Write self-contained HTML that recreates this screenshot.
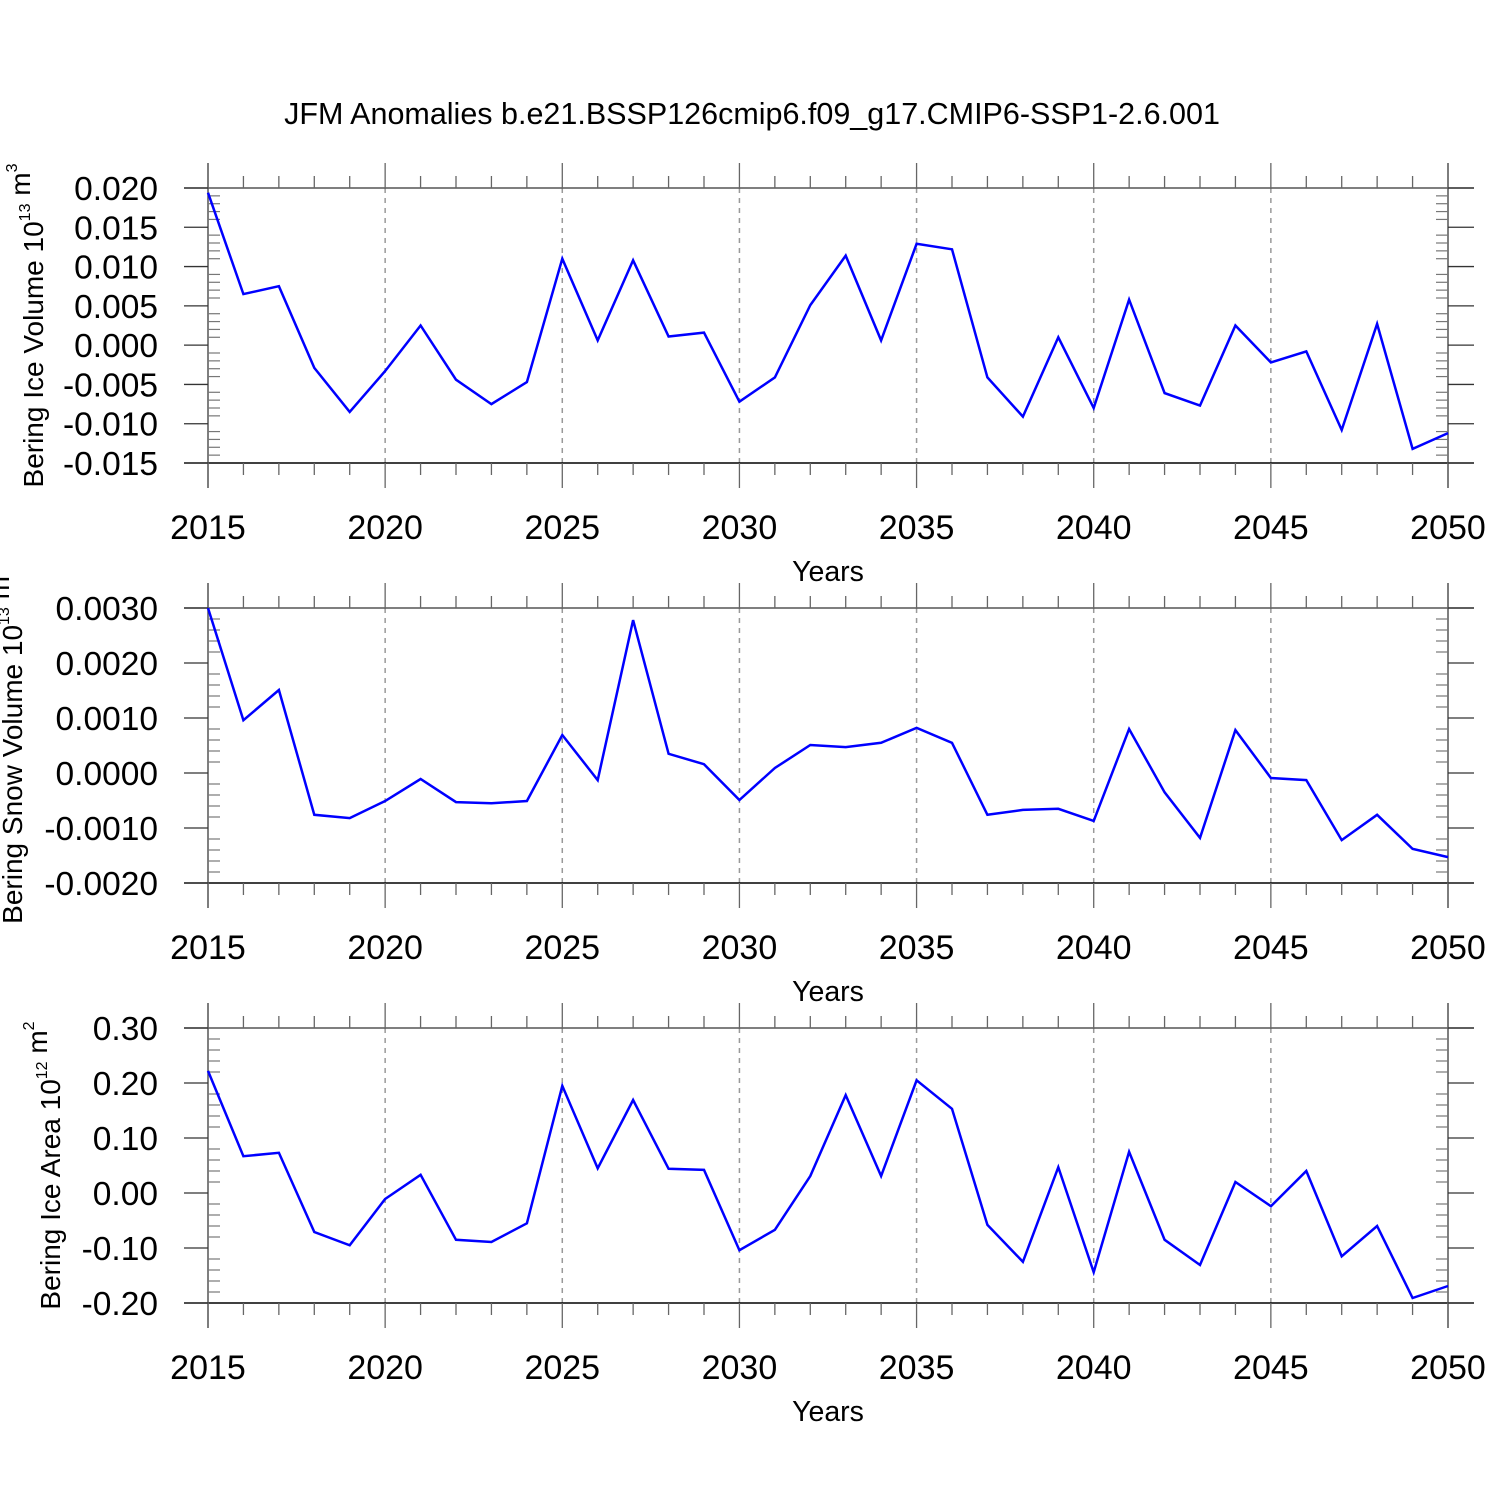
<!DOCTYPE html>
<html><head><meta charset="utf-8"><style>
html,body{margin:0;padding:0;background:#fff;width:1500px;height:1500px;overflow:hidden}
svg{display:block;font-family:"Liberation Sans",sans-serif}
</style></head><body>
<svg id="chart" width="1500" height="1500" viewBox="0 0 1500 1500">
<text x="752" y="124" font-size="30.5" text-anchor="middle">JFM Anomalies b.e21.BSSP126cmip6.f09_g17.CMIP6-SSP1-2.6.001</text>
</svg>
<script>
const years = [];
for (let y = 2015; y <= 2050; y++) years.push(y);
const iceVolume = [0.0194,0.0065,0.0075,-0.0029,-0.0085,-0.0033,0.0025,-0.0044,-0.0075,-0.0047,0.0110,0.0006,0.0108,0.0011,0.0016,-0.0072,-0.0041,0.0051,0.0114,0.0006,0.0129,0.0122,-0.0041,-0.0091,0.0010,-0.0080,0.0058,-0.0061,-0.0077,0.0025,-0.0022,-0.0008,-0.0108,0.0027,-0.0132,-0.0112];
const snowVolume = [0.0030,0.00096,0.00151,-0.00076,-0.00082,-0.00051,-0.00011,-0.00053,-0.00055,-0.00051,0.00069,-0.00013,0.00278,0.00035,0.00016,-0.00049,0.00009,0.00051,0.00047,0.00055,0.00082,0.00055,-0.00076,-0.00067,-0.00065,-0.00087,0.0008,-0.00035,-0.00118,0.00078,-0.00009,-0.00013,-0.00122,-0.00076,-0.00138,-0.00153];
const iceArea = [0.222,0.067,0.073,-0.071,-0.095,-0.011,0.033,-0.085,-0.089,-0.055,0.195,0.045,0.169,0.044,0.042,-0.104,-0.067,0.031,0.178,0.031,0.205,0.153,-0.058,-0.125,0.047,-0.144,0.075,-0.085,-0.131,0.020,-0.024,0.040,-0.115,-0.060,-0.191,-0.169];
const xTickLabels = ["2015","2020","2025","2030","2035","2040","2045","2050"];
const iceVolTicks = ["0.020","0.015","0.010","0.005","0.000","-0.005","-0.010","-0.015"];
const snowTicks = ["0.0030","0.0020","0.0010","0.0000","-0.0010","-0.0020"];
const areaTicks = ["0.30","0.20","0.10","0.00","-0.10","-0.20"];

const svg = document.getElementById('chart');
const NS = 'http://www.w3.org/2000/svg';
function mk(tag, attrs, parent) {
  const e = document.createElementNS(NS, tag);
  for (const k in attrs) e.setAttribute(k, attrs[k]);
  (parent || svg).appendChild(e);
  return e;
}
const X0 = 208, X1 = 1448;
function xs(yr) { return X0 + (yr - 2015) / 35 * (X1 - X0); }

function panel(name, top, bot, ymax, ymin, major, nminor, ticks, data, titleX, titleParts) {
  const g = mk('g', {});
  
  
  const ys = v => top + (ymax - v) / (ymax - ymin) * (bot - top);
  for (let yr = 2020; yr <= 2045; yr += 5) {
    const l = mk('line', {x1: xs(yr), x2: xs(yr), y1: top, y2: bot, stroke: '#999', 'stroke-width': 1.5, 'stroke-dasharray': '5,5'}, g);
    
    
  }
  mk('line', {x1: 184, x2: 1474, y1: top, y2: top, stroke: '#555', 'stroke-width': 1.5}, g);
  mk('line', {x1: 184, x2: 1474, y1: bot, y2: bot, stroke: '#000', 'stroke-width': 1.5}, g);
  mk('line', {x1: X0, x2: X0, y1: top - 25, y2: bot + 25, stroke: '#555', 'stroke-width': 1.5}, g);
  mk('line', {x1: X1, x2: X1, y1: top - 25, y2: bot + 25, stroke: '#555', 'stroke-width': 1.5}, g);
  years.forEach(yr => {
    const maj = (yr % 5 === 0);
    const len = maj ? 25 : 12;
    mk('line', {x1: xs(yr), x2: xs(yr), y1: top - len, y2: top, stroke: '#666', 'stroke-width': 1.3}, g);
    mk('line', {x1: xs(yr), x2: xs(yr), y1: bot, y2: bot + len, stroke: '#666', 'stroke-width': 1.3}, g);
  });
  xTickLabels.forEach(lab => {
    const t = mk('text', {x: xs(+lab), y: bot + 76, 'font-size': 34, 'text-anchor': 'middle'}, g);
    t.textContent = lab;
    
    
  });
  const xt = mk('text', {x: 828, y: bot + 118, 'font-size': 28.5, 'text-anchor': 'middle'}, g);
  xt.textContent = 'Years';
  
  
  const nMaj = ticks.length;
  for (let i = 0; i < nMaj; i++) {
    const v = ymax - i * major;
    const y = ys(v);
    mk('line', {x1: 184, x2: X0, y1: y, y2: y, stroke: '#333', 'stroke-width': 1.3}, g);
    mk('line', {x1: X1, x2: 1474, y1: y, y2: y, stroke: '#333', 'stroke-width': 1.3}, g);
    const t = mk('text', {x: 158, y: y + 12, 'font-size': 33.5, 'text-anchor': 'end'}, g);
    t.textContent = ticks[i];
    
    
    if (i < nMaj - 1) {
      for (let j = 1; j < nminor; j++) {
        const ym = ys(v - j * major / nminor);
        mk('line', {x1: X0, x2: X0 + 12, y1: ym, y2: ym, stroke: '#777', 'stroke-width': 1.2}, g);
        mk('line', {x1: X1 - 12, x2: X1, y1: ym, y2: ym, stroke: '#777', 'stroke-width': 1.2}, g);
      }
    }
  }
  const pts = data.map((v, i) => xs(years[i]).toFixed(1) + ',' + ys(v).toFixed(1)).join(' ');
  const pl = mk('polyline', {points: pts, fill: 'none', stroke: '#0000ff', 'stroke-width': 2.5, 'stroke-linejoin': 'miter'}, g);
  
  
  const cy = (top + bot) / 2;
  const yt = mk('text', {x: titleX, y: cy, 'font-size': 28, 'text-anchor': 'middle', transform: 'rotate(-90 ' + titleX + ' ' + cy + ')'}, g);
  
  
  titleParts.forEach(p => {
    const ts = mk('tspan', p[1] ? {'font-size': 16, dy: -13} : {'font-size': 28, dy: 0}, yt);
    ts.textContent = p[0];
    if (p[1]) { const back = mk('tspan', {'font-size': 28, dy: 13}, yt); back.textContent = ''; }
  });
}
panel('ice-volume', 188, 463, 0.020, -0.015, 0.005, 5, iceVolTicks, iceVolume, 43,
  [['Bering Ice Volume 10', 0], ['13', 1], [' m', 0], ['3', 1]]);
panel('snow-volume', 608, 883, 0.0030, -0.0020, 0.0010, 5, snowTicks, snowVolume, 22,
  [['Bering Snow Volume 10', 0], ['13', 1], [' m', 0], ['3', 1]]);
panel('ice-area', 1028, 1303, 0.30, -0.20, 0.10, 5, areaTicks, iceArea, 60,
  [['Bering Ice Area 10', 0], ['12', 1], [' m', 0], ['2', 1]]);
</script>
</body></html>
